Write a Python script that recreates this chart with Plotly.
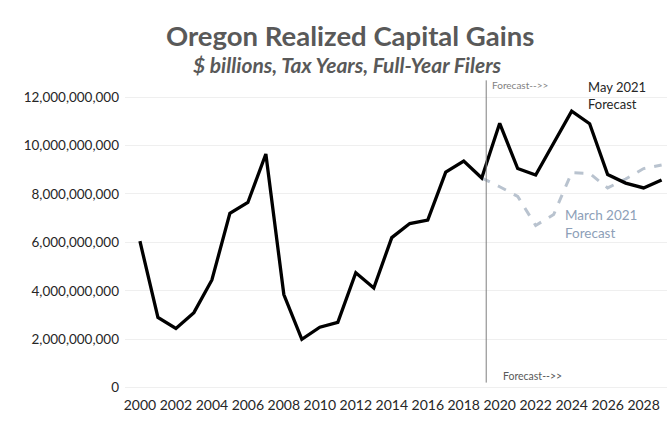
import plotly.graph_objects as go

# Tax years shown on the chart
years = list(range(2000, 2030))

# Realized capital gains, $ billions: actuals through 2019, May 2021 forecast after
may_2021 = [6.05, 2.9, 2.45, 3.1, 4.45, 7.2, 7.65, 9.65, 3.85, 2.0,
            2.5, 2.7, 4.75, 4.12, 6.2, 6.78, 6.92, 8.9, 9.36, 8.66,
            10.92, 9.05, 8.78, 10.1, 11.42, 10.9, 8.8, 8.45, 8.25, 8.58]

# March 2021 forecast, starting from the 2019 actual
march_years = list(range(2019, 2030))
march_2021 = [8.66, 8.3, 7.9, 6.7, 7.15, 8.88, 8.85, 8.25, 8.62, 9.05, 9.2]

y_ticks = [0, 2e9, 4e9, 6e9, 8e9, 10e9, 12e9]
forecast_start = 2019.25

BIL = 1e9
font_family = "Lato, Open Sans, sans-serif"

fig = go.Figure()

fig.add_trace(go.Scatter(
    x=march_years, y=[v * BIL for v in march_2021],
    mode="lines",
    line=dict(color="#b9c3cf", width=3, dash="dash"),
    showlegend=False, hoverinfo="skip",
))

fig.add_trace(go.Scatter(
    x=years, y=[v * BIL for v in may_2021],
    mode="lines",
    line=dict(color="#000000", width=3.3),
    showlegend=False,
))

# Forecast boundary
fig.add_shape(type="line", xref="x", yref="paper",
              x0=forecast_start, x1=forecast_start, y0=0.04, y1=1.015,
              line=dict(color="#7f7f7f", width=1))

annotations = [
    dict(text="<b>Oregon Realized Capital Gains</b>", xref="paper", yref="paper",
         x=0.415, y=1.0, yshift=50, yanchor="middle", showarrow=False,
         font=dict(size=27.5, color="#595959", family=font_family)),
    dict(text="<b><i>$ billions, Tax Years, Full-Year Filers</i></b>", xref="paper", yref="paper",
         x=0.41, y=1.0, yshift=21, yanchor="middle", showarrow=False,
         font=dict(size=21, color="#595959", family=font_family)),
    dict(text="Forecast-->>", xref="x", yref="paper", x=forecast_start, y=1.0,
         xanchor="left", yanchor="middle", xshift=4, yshift=0, showarrow=False,
         font=dict(size=10, color="#7f7f7f", family=font_family)),
    dict(text="Forecast-->>", xref="x", yref="paper", x=forecast_start, y=0.06,
         xanchor="left", yanchor="middle", xshift=15, showarrow=False,
         font=dict(size=10.5, color="#595959", family=font_family)),
    dict(text="May 2021<br>Forecast", xref="x", yref="y", x=2024.8, y=12.05e9,
         xanchor="left", yanchor="middle", align="left", showarrow=False,
         font=dict(size=13, color="#262626", family=font_family)),
    dict(text="March 2021<br>Forecast", xref="x", yref="y", x=2023.5, y=6.75e9,
         xanchor="left", yanchor="middle", align="left", showarrow=False,
         font=dict(size=13.5, color="#8da0b8", family=font_family)),
]

fig.update_layout(
    width=667, height=422,
    margin=dict(l=125, r=0, t=85, b=27),
    paper_bgcolor="white", plot_bgcolor="white",
    font=dict(family=font_family, color="#262626", size=14),
    annotations=annotations,
    xaxis=dict(range=[1999.17, 2029.3], tickmode="array",
               tickvals=list(range(2000, 2029, 2)),
               showgrid=False, zeroline=False, showline=False,
               ticks="", tickfont=dict(size=14, color="#262626")),
    yaxis=dict(range=[-0.3e9, 12.5e9], tickmode="array", tickvals=y_ticks,
               tickformat=",d", showgrid=True, gridcolor="#efefef", gridwidth=1,
               zeroline=False, showline=False, ticks="", ticklabelstandoff=5,
               tickfont=dict(size=13.5, color="#262626")),
)

fig.write_html("out.html")
